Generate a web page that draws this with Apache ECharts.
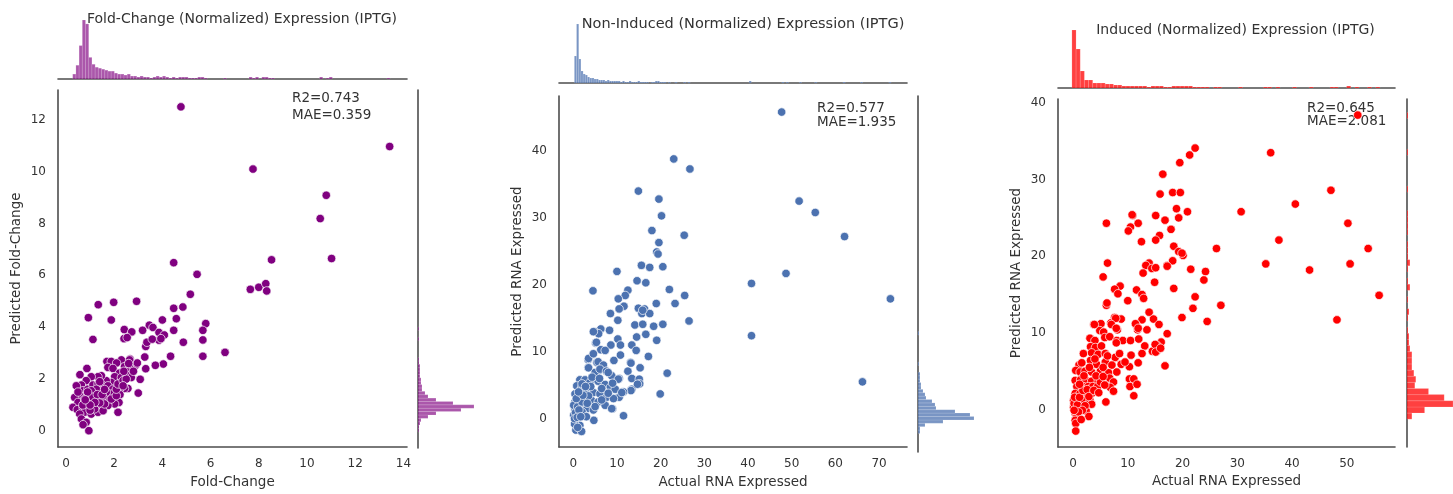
<!DOCTYPE html>
<html><head><meta charset="utf-8">
<script src="https://cdn.jsdelivr.net/npm/echarts@6/dist/echarts.min.js"></script>
<style>html,body{margin:0;padding:0;background:#fff}#c{width:1453px;height:494px}</style>
</head><body><div id="c"></div><script>
// ---------------- DATA ----------------
const titles = ['Fold-Change (Normalized) Expression (IPTG)', 'Non-Induced (Normalized) Expression (IPTG)', 'Induced (Normalized) Expression (IPTG)'];
const xNames = ['Fold-Change', 'Actual RNA Expressed', 'Actual RNA Expressed'];
const yNames = ['Predicted Fold-Change', 'Predicted RNA Expressed', 'Predicted RNA Expressed'];
const r2Labels = ['R2=0.743', 'R2=0.577', 'R2=0.645'];
const maeLabels = ['MAE=0.359', 'MAE=1.935', 'MAE=2.081'];

const foldXTicks = [0, 2, 4, 6, 8, 10, 12, 14];
const foldYTicks = [0, 2, 4, 6, 8, 10, 12];
const nonIndXTicks = [0, 10, 20, 30, 40, 50, 60, 70];
const nonIndYTicks = [0, 10, 20, 30, 40];
const indXTicks = [0, 10, 20, 30, 40, 50];
const indYTicks = [0, 10, 20, 30, 40];

// [actual, predicted]
const foldPoints = [
[4.77,12.5],[7.76,10.1],[13.43,10.97],[10.8,9.09],[10.55,8.19],
[8.53,6.6],[11.02,6.65],[4.47,6.49],[5.44,6.04],[7.65,5.46],[8.0,5.54],[8.29,5.68],[8.33,5.4],[5.16,5.27],
[2.93,5.0],[1.98,4.96],[1.34,4.87],[4.47,4.73],[4.85,4.78],[0.93,4.37],[1.88,4.28],[4.0,4.28],[4.58,4.33],[5.8,4.14],
[5.68,3.88],[5.68,3.51],[5.68,2.88],[6.6,3.03],[4.47,3.88],[4.87,3.42],[4.34,2.88],[4.04,2.58],[3.71,2.53],[3.31,2.4],
[3.27,2.85],[3.31,3.26],[3.36,3.42],[3.46,4.08],[3.61,3.99],[3.18,3.88],[3.86,3.8],[4.08,3.7],[3.86,3.5],[3.94,3.56],
[3.58,3.54],[2.42,3.91],[2.73,3.82],[2.41,3.56],[2.54,3.6],[1.12,3.53],[3.08,1.99],[3.0,1.46],[2.68,2.51],[2.9,2.54],
[2.66,2.77],[2.96,2.62],
[1.70,2.68],[1.88,2.68],[2.30,2.74],[2.64,2.74],[2.10,2.62],[1.74,2.45],[1.95,2.41],[2.43,2.48],[2.64,2.45],[2.22,2.23],
[2.54,2.28],[2.02,2.09],[2.30,2.06],[2.57,2.13],[2.71,2.06],[2.57,1.64],[2.43,1.64],[2.22,1.61],[2.24,1.40],[2.2,1.1],
[2.16,0.72],[1.88,1.87],[1.67,1.94],[1.47,2.13],[1.33,2.09],[1.05,2.09],[0.84,1.94],[0.64,1.77],[0.43,1.74],[0.71,1.55],
[0.91,1.61],[1.12,1.77],[1.33,1.81],[1.54,1.74],[1.74,1.74],[1.95,1.61],[1.88,1.42],[1.67,1.49],[1.47,1.55],[1.26,1.49],
[1.05,1.42],[0.84,1.36],[0.57,1.36],[0.36,1.29],[0.50,1.10],[0.29,0.91],[0.47,0.82],[0.71,0.91],[0.77,1.10],[0.98,1.17],
[1.19,1.23],[1.40,1.29],[1.60,1.23],[1.81,1.17],[2.02,1.04],[1.74,0.98],[1.47,0.98],[1.19,1.0],[0.98,0.91],[0.77,0.72],
[0.57,0.65],[0.64,0.46],[0.84,0.33],[0.71,0.24],[0.95,0.01],[1.05,0.65],[1.33,0.72],[1.54,0.78],[1.19,0.85],[1.60,1.04],
[1.26,1.61],[1.05,1.55],[0.77,1.23],[1.40,1.08],[1.88,1.23],[2.09,1.36],[2.09,1.61],[2.16,1.81],[2.37,1.94],[2.50,2.0],
[2.37,1.74],[0.87,2.41],[0.58,2.17],
[1.1,1.3],[1.3,1.4],[0.9,1.5],[1.5,1.4],[1.2,1.1],[0.7,1.0],[1.0,0.8],[1.6,1.6],[1.4,1.9],[0.5,1.5],[2.4,2.3],[2.8,2.3],
[2.6,2.6],[1.0,1.0],[0.8,1.2]
];

const nonIndPoints = [
[47.7,45.8],[23.0,38.8],[26.7,37.3],[14.9,34.0],[19.6,32.8],[51.7,32.5],[55.4,30.8],[20.2,30.3],[18.0,28.1],[25.4,27.4],
[62.1,27.2],[19.6,26.3],[19.1,24.9],[19.4,24.6],[15.6,22.9],[17.5,22.6],[20.5,22.7],[10.0,22.0],[48.7,21.7],[40.8,20.2],
[14.6,20.6],[16.6,20.3],[4.5,19.1],[12.5,19.2],[22.0,19.3],[11.9,18.4],[25.5,18.4],[10.3,17.9],[72.6,17.9],[19.0,17.2],
[23.3,17.2],[11.6,16.8],[14.9,16.5],[10.5,16.4],[16.3,16.4],[8.5,15.7],[15.7,15.7],[17.5,15.7],[10.2,14.7],[26.5,14.6],
[14.1,14.0],[15.9,14.1],[18.4,13.8],[20.5,14.1],[6.3,13.4],[8.3,13.2],[4.9,13.0],[5.8,12.7],[16.6,12.6],[14.5,12.2],
[40.8,12.4],[10.2,11.9],[5.1,11.3],[19.1,11.7],[10.8,11.0],[8.6,11.0],[13.4,11.0],[6.3,10.3],[7.3,10.2],[14.4,10.2],
[4.5,9.6],[10.8,9.5],[17.2,9.3],[3.4,8.8],[5.4,8.4],[9.3,8.7],[13.1,8.4],[3.4,7.6],[15.3,7.6],[12.5,7.1],[21.5,6.8],
[5.6,7.0],[7.3,7.3],[10.5,6.0],[13.4,6.0],[15.1,5.9],[15.2,5.2],[66.2,5.5],[13.4,4.4],[11.2,4.0],[19.9,3.7],[10.5,3.2],
[9.0,1.5],[11.5,0.44],[4.7,-0.25],[15.9,16.2],[13.2,8.3],[13.2,4.2],[14.7,5.15],[11.5,4.0],
[4.6,13.0],[5.3,11.4],[3.5,9.0],[4.6,9.7],[5.7,8.5],[6.9,8.0],[3.5,7.6],[5.0,6.9],[6.1,7.4],[7.6,7.1],[8.8,6.4],[10.3,5.9],
[1.5,5.8],[2.7,5.8],[3.8,5.4],[5.7,5.6],[7.3,5.1],[8.5,4.7],[9.6,4.4],[11.1,3.9],[0.8,4.9],[1.9,4.6],[3.1,4.2],[4.6,3.9],
[6.1,3.7],[7.6,3.2],[9.2,3.0],[0.4,3.7],[1.5,3.2],[2.7,3.0],[4.2,2.7],[5.7,2.5],[7.3,2.0],[8.8,1.5],[0.4,2.5],[1.5,2.0],
[3.1,1.5],[4.6,1.3],[0.4,1.3],[1.1,0.5],[2.3,0.7],[0.8,-0.2],[1.5,-1.0],[0.6,-1.7],[1.9,-1.9],[0.1,2.0],[0.1,0.5],
[0.3,-0.8],[1.0,-1.3],[0.5,0.9],[1.0,1.8],[2.0,2.5],[2.5,3.8],[3.5,3.4],[4.0,4.8],[6.5,4.5],[8.0,3.8],[5.0,1.8],[6.5,2.8],
[2.0,1.0],[3.0,0.3],[1.3,1.3],[0.7,3.0],[2.2,3.5],[3.2,2.3],[1.2,4.0],[2.0,5.2],[4.3,6.2],[6.0,6.0],[9.0,5.3],[8.0,6.9],
[2.8,4.8],[0.3,0.0],[0.9,0.2],[1.7,0.3]
];

const indPoints = [
[52.0,38.4],[22.3,34.1],[21.3,33.2],[36.1,33.5],[19.5,32.2],[16.4,30.7],[15.9,28.1],[18.2,28.3],[19.6,28.3],[47.1,28.6],
[40.6,26.8],[18.9,26.2],[20.9,25.8],[30.7,25.8],[10.9,25.3],[15.1,25.3],[19.3,25.0],[16.8,24.7],[6.1,24.3],[11.9,24.3],
[50.2,24.3],[10.5,23.8],[10.1,23.3],[17.9,23.5],[15.8,22.7],[15.1,22.1],[12.5,21.9],[37.6,22.1],[18.4,21.3],[26.2,21.0],
[53.9,21.0],[19.3,20.6],[20.1,20.1],[35.2,19.0],[50.6,19.0],[6.3,19.1],[17.2,18.8],[18.2,19.4],[13.9,19.1],[13.3,18.8],
[12.8,17.8],[14.4,18.4],[15.1,18.5],[21.5,18.3],[43.2,18.2],[24.2,18.0],[5.5,17.3],[23.9,16.9],[14.9,16.6],[55.9,14.9],
[8.6,16.1],[7.6,15.7],[18.4,15.8],[11.6,15.6],[8.2,15.1],[12.6,15.0],[12.9,14.5],[22.3,14.7],[10.0,14.2],[27.0,13.6],
[6.1,13.6],[6.2,13.9],[21.9,13.2],[7.6,12.0],[13.9,12.7],[19.9,12.0],[8.8,11.8],[48.2,11.7],[24.5,11.5],[12.6,11.7],
[14.7,11.8],[3.8,11.1],[5.1,11.2],[6.9,11.3],[15.7,11.1],[11.5,11.1],[11.8,10.4],[13.5,10.4],[8.1,10.4],[4.9,10.3],
[5.6,10.1],[17.2,9.9],[3.1,9.3],[4.0,9.0],[5.8,9.4],[6.7,9.5],[8.0,9.0],[9.1,9.0],[10.5,9.0],[12.0,9.2],[16.1,8.8],
[7.9,8.7],[3.2,8.2],[4.1,8.1],[5.2,8.3],[13.1,8.3],[15.3,8.4],[1.9,7.3],[3.4,7.4],[4.6,7.2],[5.9,7.3],[7.7,6.8],[10.6,7.1],
[12.6,7.3],[14.5,7.6],[15.3,7.6],[1.1,5.8],[1.6,6.1],[3.2,6.4],[4.3,5.9],[5.9,6.2],[7.1,5.8],[8.8,5.9],[10.3,5.6],
[11.9,6.1],[16.8,5.7],[0.5,5.1],[1.3,4.9],[2.2,5.0],[3.4,4.9],[5.0,5.0],[6.5,4.8],[8.0,4.9],[10.3,4.0],[11.1,4.0],
[10.4,3.0],[11.7,3.3],[11.1,1.8],[6.0,1.0],[6.7,4.1],[7.4,3.6],[6.8,2.9],[7.4,2.4],[0.4,3.8],[1.4,3.9],[2.4,3.8],
[3.4,3.7],[4.6,3.7],[0.7,3.0],[1.9,3.0],[2.8,3.0],[3.6,3.0],[0.4,2.1],[1.3,2.1],[2.5,2.1],[3.4,2.1],[0.1,1.2],[1.0,1.2],
[2.0,1.2],[3.1,1.2],[3.4,0.7],[0.1,0.3],[0.7,0.3],[1.5,0.3],[2.4,-0.2],[0.4,-0.5],[0.7,-0.9],[0.4,-1.4],[0.5,-1.8],
[0.5,-2.8],[4.5,3.0],[5.0,3.6],[10.8,25.4],[11.4,11.2],[11.9,10.6],[15.0,8.5],[15.1,7.5],[7.8,11.9],[7.0,11.1],
[7.9,10.6],[3.9,11.1],[17.2,18.7],[19.9,20.4],[16.0,8.0],
[0.2,0.8],[0.3,1.6],[0.8,0.6],[1.2,1.6],[1.8,2.5],[2.2,0.5],[2.6,2.6],[1.7,-0.1],[1.0,-0.3],[0.2,-0.1],[2.9,1.7],
[3.8,2.5],[4.2,4.4],[5.5,4.3],[2.0,4.4],[1.2,3.3],[3.0,5.5],[5.5,5.5],[4.0,6.6],[6.3,7.0],[8.5,7.3],[9.5,6.2],[5.8,3.2],
[4.7,2.2],[2.9,-0.9],[1.5,-1.3]
];

// marginal histograms: bin start, bin width, counts per bin
const foldTopStart = 0.28, foldTopWidth = 0.133;
const foldTopCounts = [5,14,34,60,56,22,15,12,11,10, 9,8,8,6,5,5,4,5,3,3, 2,3,2,2,1,2,3,2,3,2, 1,2,1,2,2,2,1,1,1,2,
  2,1,0,0,0,0,0,1,0,0, 0,0,0,0,0,2,1,2,0,2, 2,1,1,0,0,0,0,0,0,0, 0,0,0,0,0,0,0,2,0,1, 2,0,0,0,0,0,0,0,0,0, 0,0,0,0,0,0,0,0,1];
const foldRightStart = 0.0, foldRightWidth = 0.13;
const foldRightCounts = [1,1,2,3,10,18,43,56,35,18, 10,7,4,4,3,3,2,2,2,2, 1,1,0,0,0,0,0,1,0,0, 1];

const nonIndTopStart = 0.25, nonIndTopWidth = 0.5;
const nonIndTopCounts = [27,59,24,12,9,8,6,5,5,4, 4,3,3,3,2,3,2,2,2,2, 2,1,2,1,1,2,1,1,1,2, 1,1,1,1,0,1,1,2,2,1,
  1,1,0,1,0,0,1,0,0,0, 1,0,1,0,0,0,0,0,0,0, 0,0,0,0,0,0,0,0,0,0, 0,0,0,0,0,0,0,0,0,0, 2,0,0,0,0,0,0,0,0,0,
  0,0,0,0,0,1,0,1,0,0, 0,0,0,1,0,0,0,0,0,0, 1,0,0,0,0,0,0,0,0,0, 0,0,0,1,0,0,0,0,0,0, 0,1,0,0,0,0,0,0,0,0, 0,0,0,0,1];
const nonIndRightStart = -1.5, nonIndRightWidth = 0.5;
const nonIndRightCounts = [2,2,7,25,56,52,37,18,17,14, 8,7,5,3,3,2,2,2,0,0, 1,0,0,0,0,0,0,0,0,1];

const indTopStart = -0.2, indTopWidth = 0.76;
const indTopCounts = [58,39,17,8,8,5,5,5,4,4, 3,3,2,2,2,2,2,2,1,2, 2,2,1,1,2,2,2,2,2,1, 1,1,1,0,1,1,0,0,0,0,
  1,0,0,0,0,0,1,1,0,1, 0,0,0,1,0,0,0,1,0,0, 0,0,1,1,0,0,2,0,1,0, 0,1,0,1];
const indRightStart = -1.25, indRightWidth = 0.8;
const indRightCounts = [5,18,47,38,22,8,9,7,5,5, 5,3,2,2,1,0,1,2,0,1, 0,3,1,0,1,3,1,1,1,0, 1,1,1,1,0,0,0,1,0,0, 0,0,0,1,0,0,0,0,0,1];

// ---------------- LAYOUT / STYLE ----------------
const FONT = 'DejaVu Sans';
const TXT = '#333';
const SPINE = '#4d4d4d';
const panels = [
  { pts: foldPoints, color: '#800080', hist: 'rgba(128,0,128,0.66)',
    xr: [-0.33, 14.15], yr: [-0.62, 13.15], xt: foldXTicks, yt: foldYTicks,
    main: {left: 58, top: 90, width: 349, height: 358}, topH: {top: 20, height: 59}, rightH: {left: 418, width: 56},
    tH: [foldTopStart, foldTopWidth, foldTopCounts], rH: [foldRightStart, foldRightWidth, foldRightCounts],
    title: [242, 19, 14], r2: [292, 98.3, 115], xGap: 28 },
  { pts: nonIndPoints, color: '#4c72b0', hist: 'rgba(76,114,176,0.75)',
    xr: [-3.27, 76.4], yr: [-4.23, 48.2], xt: nonIndXTicks, yt: nonIndYTicks,
    main: {left: 559, top: 96, width: 348, height: 356}, topH: {top: 24, height: 59}, rightH: {left: 918, width: 56},
    tH: [nonIndTopStart, nonIndTopWidth, nonIndTopCounts], rH: [nonIndRightStart, nonIndRightWidth, nonIndRightCounts],
    title: [743, 24, 14.5], r2: [817, 108.3, 122.7], xGap: 28 },
  { pts: indPoints, color: '#ff0000', hist: 'rgba(255,0,0,0.75)',
    xr: [-2.74, 58.8], yr: [-4.88, 40.5], xt: indXTicks, yt: indYTicks,
    main: {left: 1058, top: 99, width: 337, height: 348}, topH: {top: 30, height: 58}, rightH: {left: 1407, width: 48},
    tH: [indTopStart, indTopWidth, indTopCounts], rH: [indRightStart, indRightWidth, indRightCounts],
    title: [1235.5, 30, 14], r2: [1307, 108.3, 121.7], xGap: 27 }
];

const grid = [], xAxis = [], yAxis = [], series = [], graphic = [];
const lbl = {color: TXT, fontFamily: FONT, fontSize: 12};
const nameStyle = {color: TXT, fontFamily: FONT, fontSize: 13.5};
const hiddenAxis = (extra) => Object.assign({type: 'value', axisLine: {show: false}, axisTick: {show: false},
  axisLabel: {show: false}, splitLine: {show: false}}, extra);

panels.forEach((p, i) => {
  const g0 = grid.length;
  grid.push(Object.assign({}, p.main));
  grid.push({left: p.main.left, width: p.main.width, top: p.topH.top, height: p.topH.height});
  grid.push({left: p.rightH.left, width: p.rightH.width, top: p.main.top, height: p.main.height});
  // main axes
  xAxis.push({type: 'value', gridIndex: g0, min: p.xr[0], max: p.xr[1],
    axisLine: {show: true, onZero: false, lineStyle: {color: SPINE, width: 1.6}}, axisTick: {show: false},
    axisLabel: Object.assign({customValues: p.xt, margin: 11}, lbl), splitLine: {show: false},
    name: xNames[i], nameLocation: 'middle', nameGap: p.xGap, nameTextStyle: nameStyle});
  yAxis.push({type: 'value', gridIndex: g0, min: p.yr[0], max: p.yr[1],
    axisLine: {show: true, onZero: false, lineStyle: {color: SPINE, width: 1.6}}, axisTick: {show: false},
    axisLabel: Object.assign({customValues: p.yt, margin: 12}, lbl), splitLine: {show: false},
    name: yNames[i], nameLocation: 'middle', nameGap: 35, nameTextStyle: nameStyle});
  // top hist axes
  const tMax = Math.max(...p.tH[2]);
  xAxis.push(hiddenAxis({gridIndex: g0 + 1, min: p.xr[0], max: p.xr[1],
    axisLine: {show: true, onZero: false, lineStyle: {color: SPINE, width: 1.6}}}));
  yAxis.push(hiddenAxis({gridIndex: g0 + 1, min: 0, max: tMax}));
  // right hist axes
  const rMax = Math.max(...p.rH[2]);
  xAxis.push(hiddenAxis({gridIndex: g0 + 2, min: 0, max: rMax}));
  yAxis.push(hiddenAxis({gridIndex: g0 + 2, min: p.yr[0], max: p.yr[1],
    axisLine: {show: true, onZero: false, lineStyle: {color: SPINE, width: 1.6}}}));

  series.push({type: 'scatter', xAxisIndex: g0, yAxisIndex: g0, data: p.pts, symbolSize: 8.5,
    itemStyle: {color: p.color, borderColor: '#fff', borderWidth: 0.7, opacity: 1}, silent: true});

  const tStart = p.tH[0], tW = p.tH[1];
  series.push({type: 'custom', xAxisIndex: g0 + 1, yAxisIndex: g0 + 1, silent: true,
    data: p.tH[2].map((c, k) => [tStart + k * tW, c]).filter(d => d[1] > 0),
    encode: {x: 0, y: 1},
    renderItem: (params, api) => {
      const x0 = api.value(0), c = api.value(1);
      const a = api.coord([x0, c]), b = api.coord([x0 + tW, 0]);
      return {type: 'rect', shape: {x: a[0], y: a[1], width: b[0] - a[0], height: b[1] - a[1]},
        style: {fill: p.hist, stroke: 'rgba(255,255,255,0.35)', lineWidth: 0.4}};
    }});
  const rStart = p.rH[0], rW = p.rH[1];
  series.push({type: 'custom', xAxisIndex: g0 + 2, yAxisIndex: g0 + 2, silent: true,
    data: p.rH[2].map((c, k) => [c, rStart + k * rW]).filter(d => d[0] > 0),
    encode: {x: 0, y: 1},
    renderItem: (params, api) => {
      const c = api.value(0), y0 = api.value(1);
      const a = api.coord([0, y0 + rW]), b = api.coord([c, y0]);
      return {type: 'rect', shape: {x: a[0], y: a[1], width: b[0] - a[0], height: b[1] - a[1]},
        style: {fill: p.hist, stroke: 'rgba(255,255,255,0.35)', lineWidth: 0.4}};
    }});

  graphic.push({type: 'text', x: p.title[0], y: p.title[1], silent: true,
    style: {text: titles[i], align: 'center', verticalAlign: 'middle', fill: TXT, font: p.title[2] + 'px "DejaVu Sans"'}});
  graphic.push({type: 'text', x: p.r2[0], y: p.r2[1], silent: true,
    style: {text: r2Labels[i], align: 'left', verticalAlign: 'middle', fill: TXT, font: '13.5px "DejaVu Sans"'}});
  graphic.push({type: 'text', x: p.r2[0], y: p.r2[2], silent: true,
    style: {text: maeLabels[i], align: 'left', verticalAlign: 'middle', fill: TXT, font: '13.5px "DejaVu Sans"'}});
});

const chart = echarts.init(document.getElementById('c'), null, {renderer: 'canvas'});
chart.setOption({animation: false, backgroundColor: '#fff', grid, xAxis, yAxis, series, graphic,
  textStyle: {fontFamily: FONT}});
</script></body></html>
